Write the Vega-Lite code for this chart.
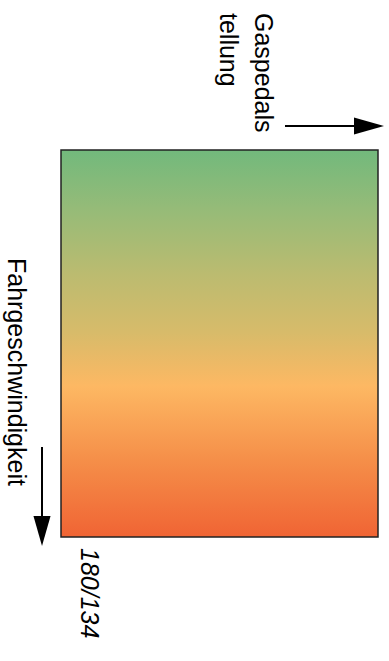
{
  "$schema": "https://vega.github.io/schema/vega-lite/v6.json",
  "width": 317,
  "height": 387,
  "autosize": {"type": "none"},
  "padding": {"left": 61, "top": 150, "right": 11, "bottom": 124},
  "background": "white",
  "config": {"view": {"stroke": null}},
  "datasets": {
    "field": [{"gas0": 0, "gas1": 100, "speed0": 0, "speed1": 100}],
    "arrows": [
      {"name": "gas", "x0": 70.66, "x1": 92.74, "y0": -6.2, "y1": -6.2},
      {"name": "speed", "x0": -5.99, "x1": -5.99, "y0": 76.74, "y1": 94.83}
    ],
    "labels": [
      {"text": "Gaspedals", "x": 63.72, "y": -35.4, "kind": "top"},
      {"text": "tellung", "x": 52.68, "y": -35.4, "kind": "top"},
      {"text": "Fahrgeschwindigkeit", "x": -14.2, "y": 57.36, "kind": "side"},
      {"text": "180/134", "x": 8.83, "y": 102.84, "kind": "max"}
    ]
  },
  "encoding": {},
  "layer": [
    {
      "data": {"name": "field"},
      "mark": {
        "type": "rect",
        "clip": false,
        "stroke": "#222222",
        "strokeWidth": 1.5,
        "color": {
          "gradient": "linear",
          "x1": 0, "y1": 0, "x2": 0, "y2": 1,
          "stops": [
            {"offset": 0, "color": "#72b97c"},
            {"offset": 0.15, "color": "#95bb78"},
            {"offset": 0.32, "color": "#bbbb70"},
            {"offset": 0.47, "color": "#d7bb6a"},
            {"offset": 0.61, "color": "#fdb863"},
            {"offset": 0.8, "color": "#f58f49"},
            {"offset": 1, "color": "#f06434"}
          ]
        }
      },
      "encoding": {
        "x": {"field": "gas0", "type": "quantitative", "scale": {"domain": [0, 100]}, "axis": null},
        "x2": {"field": "gas1"},
        "y": {"field": "speed0", "type": "quantitative", "scale": {"domain": [0, 100], "reverse": true}, "axis": null},
        "y2": {"field": "speed1"}
      }
    },
    {
      "data": {"name": "arrows"},
      "mark": {"type": "rule", "clip": false, "color": "#000000", "strokeWidth": 2},
      "encoding": {
        "x": {"field": "x0", "type": "quantitative"},
        "x2": {"field": "x1"},
        "y": {"field": "y0", "type": "quantitative"},
        "y2": {"field": "y1"}
      }
    },
    {
      "data": {"name": "arrows"},
      "transform": [{"filter": "datum.name === 'gas'"}],
      "mark": {"type": "point", "clip": false, "filled": true, "color": "#000000", "opacity": 1, "size": 900, "shape": "M-1,-0.57L1,0L-1,0.57Z"},
      "encoding": {
        "x": {"field": "x1", "type": "quantitative"},
        "y": {"field": "y1", "type": "quantitative"},
        "xOffset": {"value": 14}
      }
    },
    {
      "data": {"name": "arrows"},
      "transform": [{"filter": "datum.name === 'speed'"}],
      "mark": {"type": "point", "clip": false, "filled": true, "color": "#000000", "opacity": 1, "size": 900, "shape": "M-0.57,-1L0.57,-1L0,1Z"},
      "encoding": {
        "x": {"field": "x1", "type": "quantitative"},
        "y": {"field": "y1", "type": "quantitative"},
        "yOffset": {"value": 14}
      }
    },
    {
      "data": {"name": "labels"},
      "transform": [{"filter": "datum.kind === 'top'"}],
      "mark": {"type": "text", "clip": false, "angle": 90, "align": "left", "baseline": "middle", "font": "Liberation Sans", "fontSize": 25, "color": "#000000"},
      "encoding": {
        "x": {"field": "x", "type": "quantitative"},
        "y": {"field": "y", "type": "quantitative"},
        "text": {"field": "text"}
      }
    },
    {
      "data": {"name": "labels"},
      "transform": [{"filter": "datum.kind === 'side'"}],
      "mark": {"type": "text", "clip": false, "angle": 90, "align": "center", "baseline": "middle", "font": "Liberation Sans", "fontSize": 25, "color": "#000000"},
      "encoding": {
        "x": {"field": "x", "type": "quantitative"},
        "y": {"field": "y", "type": "quantitative"},
        "text": {"field": "text"}
      }
    },
    {
      "data": {"name": "labels"},
      "transform": [{"filter": "datum.kind === 'max'"}],
      "mark": {"type": "text", "clip": false, "angle": 90, "align": "left", "baseline": "middle", "font": "Liberation Sans", "fontSize": 25, "fontStyle": "italic", "color": "#000000"},
      "encoding": {
        "x": {"field": "x", "type": "quantitative"},
        "y": {"field": "y", "type": "quantitative"},
        "text": {"field": "text"}
      }
    }
  ]
}
